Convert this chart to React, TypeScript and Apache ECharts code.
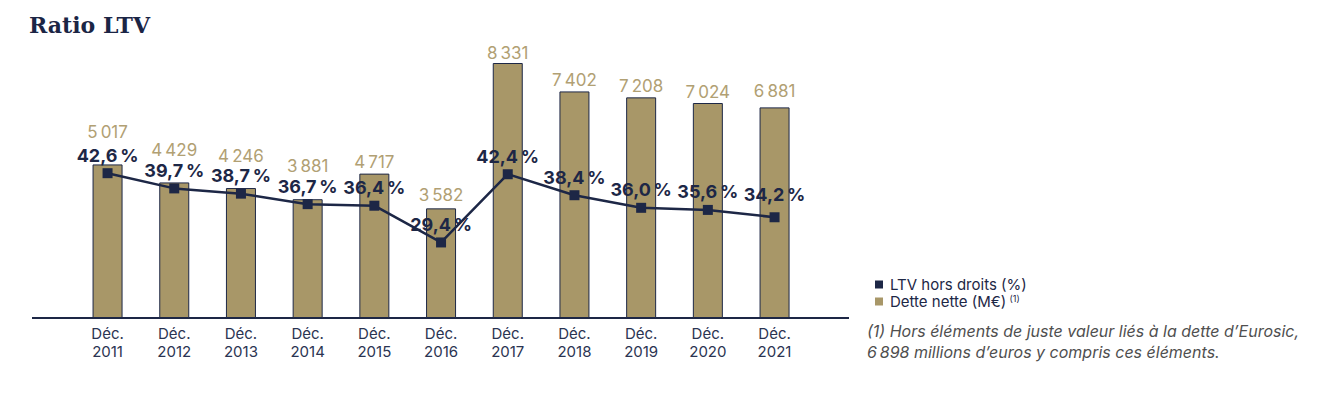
import React, { useEffect, useRef } from "react";
import * as echarts from "echarts";

const categories = [
  "Déc. 2011", "Déc. 2012", "Déc. 2013", "Déc. 2014", "Déc. 2015", "Déc. 2016",
  "Déc. 2017", "Déc. 2018", "Déc. 2019", "Déc. 2020", "Déc. 2021",
];
const detteNette = [5017, 4429, 4246, 3881, 4717, 3582, 8331, 7402, 7208, 7024, 6881];
const ltv = [42.6, 39.7, 38.7, 36.7, 36.4, 29.4, 42.4, 38.4, 36.0, 35.6, 34.2];

// label offsets (styling only)
const barLabelGap = [24, 24, 24, 25, 3, 5, 2, 3, 3, 3, 8];
const ltvLabelGap = [4, 4, 4, 4, 4, 4, 4, 4, 4, 4, 9];

const NAVY = "#1d2746";
const GOLD = "#a89768";
const GOLD_TEXT = "#b1a073";
const FONT = "Inter, 'Noto Sans', sans-serif";

const fmtNum = (v: number) =>
  String(v).replace(/\B(?=(\d{3})+(?!\d))/g, "\u2009");
const fmtPct = (v: number) => v.toFixed(1).replace(".", ",") + "\u2009%";

export default function App() {
  const ref = useRef<HTMLDivElement>(null);
  useEffect(() => {
    document.body.style.margin = "0";
    const chart = echarts.init(ref.current!, null, { renderer: "svg" });
    chart.setOption({
      animation: false,
      backgroundColor: "#ffffff",
      grid: { left: 74.2, right: 532.1, top: 63, bottom: 81 },
      legend: {
        left: 870,
        top: 272,
        orient: "vertical",
        itemWidth: 8,
        itemHeight: 8,
        itemGap: 2,
        icon: "rect",
        data: [
          { name: "LTV hors droits (%)", icon: "rect" },
          { name: "Dette nette (M€)", icon: "rect" },
        ],
        itemStyle: { borderWidth: 0 },
        formatter: (name: string) =>
          name === "Dette nette (M€)"
            ? "{t|" + name + "} {s|(1)}"
            : "{t|" + name + "}",
        textStyle: {
          padding: [0, 0, 0, 2],
          rich: {
            t: { fontSize: 15, color: NAVY, fontFamily: FONT, lineHeight: 15 },
            s: { fontSize: 9, color: NAVY, fontFamily: FONT, lineHeight: 9, verticalAlign: "top" },
          },
        },
      },
      xAxis: {
        type: "category",
        data: categories,
        axisLine: { show: false },
        axisTick: { show: false },
        axisLabel: {
          margin: 6,
          fontSize: 15,
          lineHeight: 18,
          color: "#2b3452",
          fontFamily: FONT,
          formatter: (v: string) => v.replace(" ", "\n"),
        },
      },
      yAxis: [
        { type: "value", min: 0, max: 8331, show: false },
        { type: "value", min: 15, max: 63.6, show: false },
      ],
      series: [
        {
          name: "Dette nette (M€)",
          type: "bar",
          yAxisIndex: 0,
          barWidth: 30,
          itemStyle: { color: GOLD, borderColor: NAVY, borderWidth: 1 },
          label: {
            show: true,
            position: "top",
            color: GOLD_TEXT,
            fontSize: 17,
            fontFamily: FONT,
            formatter: (p: any) => fmtNum(p.value),
          },
          data: detteNette.map((v, i) => ({ value: v, label: { distance: barLabelGap[i] } })),
          z: 1,
        },
        {
          name: "LTV hors droits (%)",
          type: "line",
          yAxisIndex: 1,
          symbol: "rect",
          symbolSize: 10,
          lineStyle: { color: NAVY, width: 2.5 },
          itemStyle: { color: NAVY },
          label: {
            show: true,
            position: "top",
            color: NAVY,
            fontSize: 18,
            fontWeight: "bold",
            fontFamily: FONT,
            formatter: (p: any) => fmtPct(p.value),
          },
          data: ltv.map((v, i) => ({ value: v, label: { distance: ltvLabelGap[i] } })),
          z: 3,
        },
      ],
      graphic: [
        {
          type: "text",
          left: 29,
          top: 14,
          style: {
            text: "Ratio LTV",
            fontFamily: "'DejaVu Serif', serif",
            fontWeight: "bold",
            fontSize: 22,
            fill: "#1b2545",
          },
        },
        {
          type: "line",
          shape: { x1: 32, y1: 318, x2: 849, y2: 318 },
          style: { stroke: NAVY, lineWidth: 2 },
        },
        {
          type: "text",
          left: 867,
          top: 320,
          style: {
            text:
              "(1) Hors éléments de juste valeur liés à la dette d’Eurosic,\n6\u2009898 millions d’euros y compris ces éléments.",
            fontFamily: FONT,
            fontStyle: "italic",
            fontSize: 16,
            lineHeight: 21,
            fill: "#4f4f4f",
          },
        },
      ],
    });
    return () => chart.dispose();
  }, []);
  return <div ref={ref} style={{ width: 1340, height: 399 }} />;
}
